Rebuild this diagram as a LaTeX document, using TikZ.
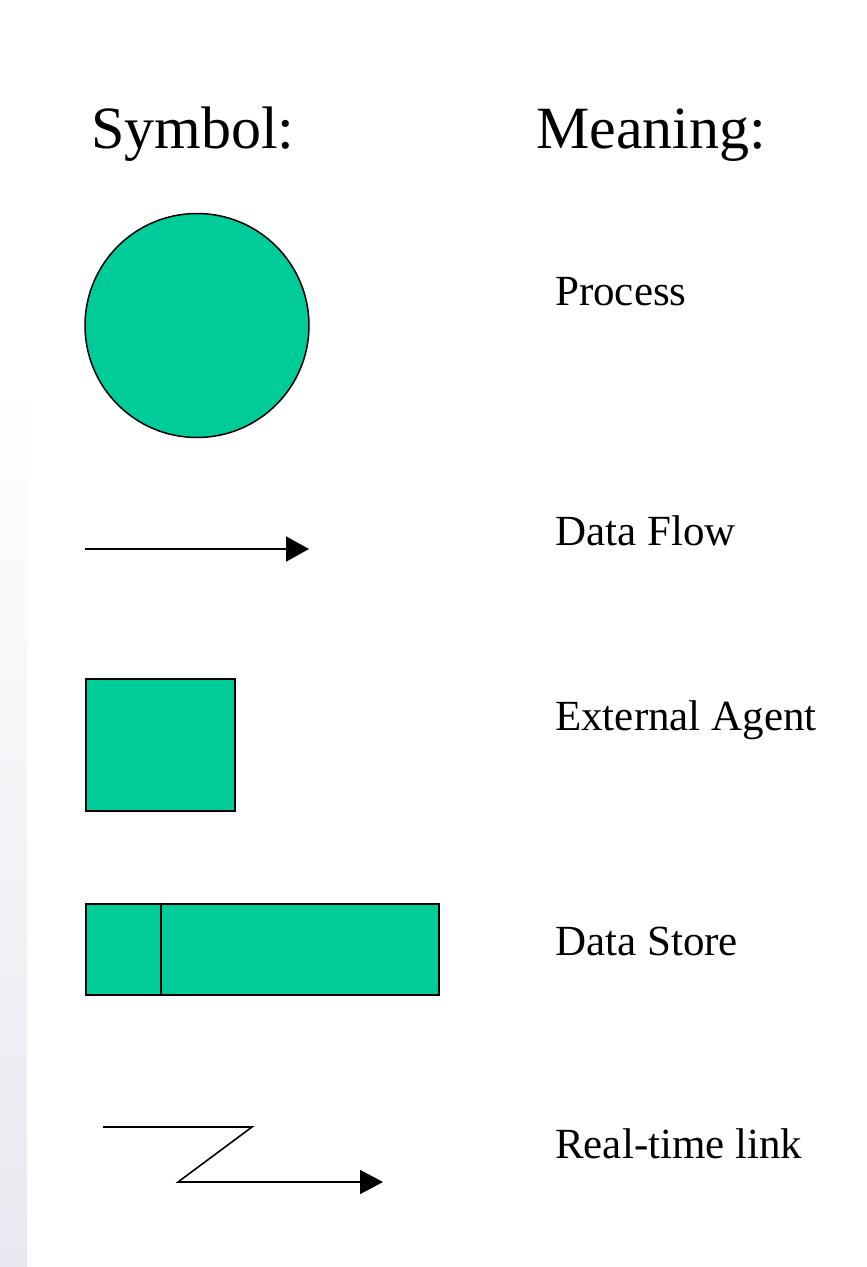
\documentclass[tikz,border=0pt]{standalone}
\usepackage{fontspec}
\setmainfont{Liberation Serif}
\usetikzlibrary{arrows.meta}
\definecolor{dfdgreen}{RGB}{0,204,153}
\definecolor{stripgray}{RGB}{232,233,240}
\begin{document}
\begin{tikzpicture}[x=1pt,y=-1pt,
  head/.style={anchor=base west,inner sep=0pt,font=\fontsize{60}{70}\selectfont},
  meaning/.style={anchor=base west,inner sep=0pt,font=\fontsize{43}{50}\selectfont},
  shapebox/.style={draw=black,fill=dfdgreen,line width=2pt,inner sep=0pt},
  flow/.style={line width=2pt,-{Triangle[length=23pt,width=25pt]}},
  thinflow/.style={line width=1.6pt,-{Triangle[length=23pt,width=24pt]}}]
\useasboundingbox (0,0) rectangle (867,1267);
\fill[white] (0,0) rectangle (867,1267);
\shade[top color=white,bottom color=stripgray] (0,380) rectangle (27,1267);
% headings
\node[head] (hsym) at (91,148) {Symbol:};
\node[head] (hmean) at (536,148) {Meaning:};
% process
\node[shapebox,circle,minimum size=224pt,line width=1.5pt] (proc) at (197,325.5) {};
\node[meaning] (tproc) at (555,305) {Process};
% data flow
\coordinate (dfa) at (85,549);
\coordinate (dfb) at (309,549);
\draw[flow] (dfa) -- (dfb);
\node[meaning] (tflow) at (555,545) {Data Flow};
% external agent
\node[shapebox,minimum width=149pt,minimum height=132pt] (agent) at (160.5,745) {};
\node[meaning] (tagent) at (555,730) {External Agent};
% data store
\node[shapebox,minimum width=353pt,minimum height=91pt] (store) at (262.5,949.5) {};
\draw[line width=2pt] (161,904) -- (161,995);
\node[meaning] (tstore) at (555,955) {Data Store};
% real-time link
\coordinate (rta) at (103,1127);
\coordinate (rtb) at (252,1127);
\coordinate (rtc) at (178,1182);
\coordinate (rtd) at (383,1182);
\draw[thinflow,line join=miter] (rta) -- (rtb) -- (rtc) -- (rtd);
\node[meaning] (treal) at (555,1158) {Real-time link};
\end{tikzpicture}
\end{document}
